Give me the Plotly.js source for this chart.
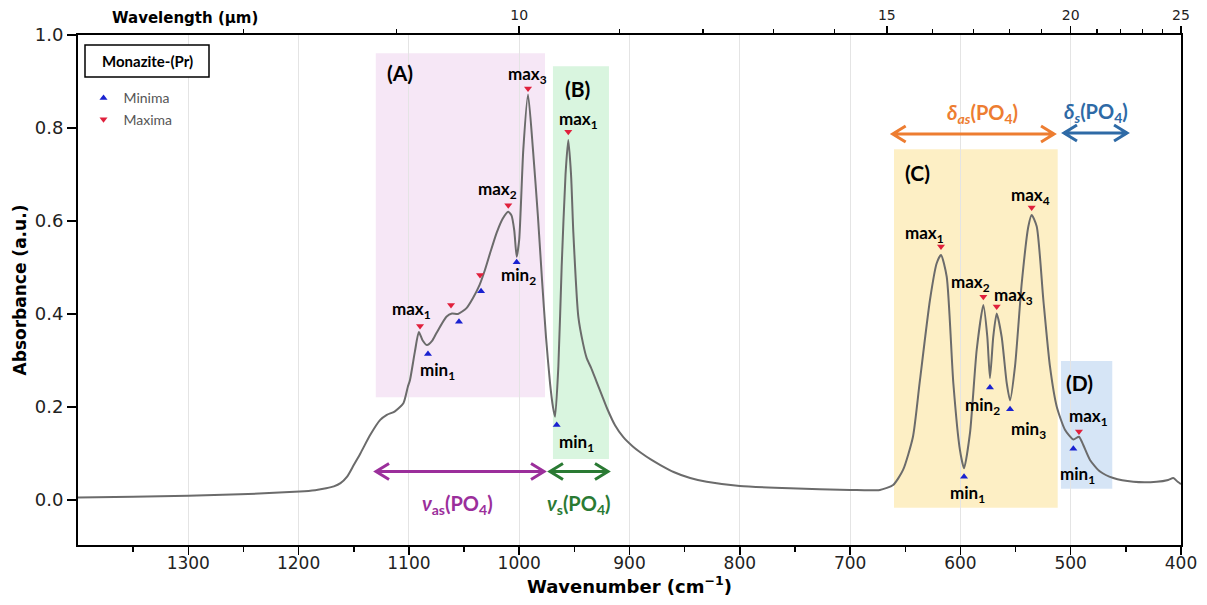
<!DOCTYPE html>
<html>
<head>
<meta charset="utf-8">
<script src="https://cdn.plot.ly/plotly-3.0.1.min.js"></script>
<style>html,body{margin:0;padding:0;background:#fff;}#chart{width:1207px;height:605px;}</style>
</head>
<body>
<div id="chart"></div>
<script>
// ---- Spectrum (wavenumber cm^-1, absorbance a.u.) ----
const wavenumber = [1400,1350,1300,1253,1199,1185,1175,1168,1162,1156,1150,1144,1135,1126,1120,1113,1105,1101,1099,1094.5,1091,1087.5,1083.6,1079,1075,1066,1061,1055.5,1048,1042,1036,1031,1026.5,1020.4,1015,1010,1007,1004.5,1002.3,1000,996.3,992,987.5,983,979.3,975.7,972,969.4,967.5,964.5,961.5,958,955.5,953,950.9,946.4,942,938.8,935,930,925,920,913,905.6,897,890,880,872,860,845,830,800,754.5,700,673,661,652,643,637,627.6,621.5,617.6,612.4,606.4,600.4,596.7,591.3,585.2,579.2,575.6,573.2,570.2,567.1,562.6,558,555,550.5,544.4,538.4,535.4,530.8,524.8,518.8,512.7,505.2,497.6,492.5,488.6,482.5,473.4,461.4,443.2,422.1,411.6,407,403,400];
const absorbance = [0.005,0.007,0.009,0.012,0.018,0.021,0.025,0.029,0.036,0.050,0.075,0.100,0.140,0.172,0.183,0.190,0.208,0.243,0.258,0.320,0.361,0.343,0.333,0.342,0.359,0.394,0.401,0.400,0.412,0.434,0.462,0.495,0.530,0.575,0.605,0.620,0.612,0.580,0.523,0.560,0.753,0.872,0.753,0.609,0.473,0.350,0.250,0.200,0.179,0.287,0.502,0.700,0.774,0.700,0.574,0.394,0.335,0.305,0.285,0.255,0.225,0.195,0.160,0.135,0.115,0.102,0.086,0.075,0.060,0.047,0.039,0.030,0.025,0.0215,0.0215,0.032,0.0645,0.136,0.251,0.430,0.509,0.527,0.480,0.251,0.107,0.068,0.144,0.323,0.419,0.351,0.262,0.351,0.401,0.351,0.251,0.214,0.287,0.466,0.588,0.613,0.588,0.430,0.287,0.201,0.151,0.130,0.136,0.118,0.086,0.061,0.047,0.039,0.039,0.043,0.047,0.039,0.034];

// ---- Extrema markers ----
const minimaX = [1082.7,1054.6,1034.6,1002.3,966.0,596.7,573.2,555.0,497.6];
const minimaY = [0.314,0.383,0.449,0.511,0.161,0.050,0.242,0.195,0.110];
const maximaX = [1089.9,1061.8,1035.5,1009.9,992.0,955.5,617.6,579.2,567.1,535.4,492.5];
const maximaY = [0.374,0.419,0.484,0.634,0.885,0.792,0.545,0.437,0.416,0.629,0.147];

// ---- Axis ticks ----
const xTicks = [1300,1200,1100,1000,900,800,700,600,500,400];
const xMinorTicks = [1350,1250,1150,1050,950,850,750,650,550,450];
const yTicks = [0.0,0.2,0.4,0.6,0.8,1.0];
const wlMajor = [10,15,20,25];
const wlMinor = [8,9,11,12,13,14,16,17,18,19,21,22,23,24];

// ---- Regions ----
const regionNames = ['(A)','(B)','(C)','(D)'];
const regionX0 = [1130,969.4,660.2,508.8];
const regionX1 = [976.6,918.6,511.8,462.3];
const regionY0 = [0.221,0.088,-0.017,0.024];
const regionY1 = [0.961,0.933,0.754,0.299];
const regionColors = ['rgba(221,160,221,0.25)','rgba(120,220,140,0.28)','rgba(250,215,110,0.40)','rgba(120,170,225,0.30)'];
const regionLabelX = [1108.1,946.7,638.9,491.6];
const regionLabelY = [0.920,0.884,0.705,0.252];

// ---- Peak labels ----
const peakText = ['max<sub>3</sub>','max<sub>1</sub>','max<sub>2</sub>','min<sub>2</sub>','max<sub>1</sub>','min<sub>1</sub>','min<sub>1</sub>',
  'max<sub>1</sub>','max<sub>2</sub>','max<sub>3</sub>','max<sub>4</sub>','min<sub>2</sub>','min<sub>3</sub>','min<sub>1</sub>','max<sub>1</sub>','min<sub>1</sub>'];
const peakTextX = [992.9,945.8,1020.1,1000.2,1097.2,1074.5,948.5,632.1,590.4,551.9,536.0,580.4,538.7,594.0,484.3,493.4];
const peakTextY = [0.914,0.818,0.667,0.482,0.409,0.277,0.123,0.572,0.467,0.439,0.654,0.202,0.151,0.013,0.178,0.054];

// ---- Vibration-mode arrows ----
const modeText = ['<i>ν</i><sub>as</sub>(PO<sub>4</sub>)','<i>ν</i><sub>s</sub>(PO<sub>4</sub>)','<i>δ<sub>as</sub></i>(PO<sub>4</sub>)','<i>δ<sub>s</sub></i>(PO<sub>4</sub>)'];
const modeTextX = [1055.5,945.8,580.4,477.1];
const modeTextY = [-0.009,-0.009,0.832,0.833];
const arrowStart = [1129.8,972.1,661.4,506.1];
const arrowEnd = [977.5,919.5,515.1,448.9];
const arrowY = [0.061,0.061,0.787,0.789];
const modeColors = ['#9b2f9b','#2a7a33','#ed7d31','#2e6aa6'];

const X_RANGE = [1400,400];
const Y_RANGE = [-0.097,1.0];
const W = 1207, H = 605, M = {l:78, r:26, t:35, b:60};
const pw = W - M.l - M.r, ph = H - M.t - M.b;
const dxPx = (X_RANGE[0]-X_RANGE[1]) / pw;
const dyPx = (Y_RANGE[1]-Y_RANGE[0]) / ph;

const labelFont = 'Lato, Noto Sans, sans-serif';

const traces = [
  {x: wavenumber, y: absorbance, type:'scatter', mode:'lines', line:{color:'#6b6b6b', width:2, shape:'spline', smoothing:0.6}, showlegend:false, hoverinfo:'skip'},
  {x: minimaX, y: minimaY, type:'scatter', mode:'markers', name:'Minima', marker:{symbol:'triangle-up', size:7, color:'#1a22d0'}},
  {x: maximaX, y: maximaY, type:'scatter', mode:'markers', name:'Maxima', marker:{symbol:'triangle-down', size:7, color:'#e0203c'}},
  {x: wavenumber, y: absorbance, xaxis:'x2', type:'scatter', mode:'lines', line:{width:0}, opacity:0, showlegend:false, hoverinfo:'skip'}
];

const shapes = [];
for (let i = 0; i < regionNames.length; i++) {
  shapes.push({type:'rect', xref:'x', yref:'y', x0:regionX0[i], x1:regionX1[i], y0:regionY0[i], y1:regionY1[i],
    fillcolor:regionColors[i], line:{width:0}, layer:'below'});
}
const headL = 13, headH = 8;
for (let i = 0; i < arrowStart.length; i++) {
  const a = arrowStart[i], b = arrowEnd[i], y = arrowY[i];
  const lx = headL*dxPx, ly = headH*dyPx;
  const p = `M ${a},${y} L ${b},${y} M ${a-lx},${y+ly} L ${a},${y} L ${a-lx},${y-ly} M ${b+lx},${y+ly} L ${b},${y} L ${b+lx},${y-ly}`;
  shapes.push({type:'path', xref:'x', yref:'y', path:p, line:{color:modeColors[i], width:3}});
}
// legend title box
shapes.push({type:'rect', xref:'paper', yref:'paper', x0:(85-M.l)/pw, x1:(209-M.l)/pw, y0:(H-M.b-77)/ph, y1:(H-M.b-45)/ph, line:{color:'#000', width:1.5}, fillcolor:'#fff'});

const annotations = [];
for (let i = 0; i < regionNames.length; i++) {
  annotations.push({x:regionLabelX[i], y:regionLabelY[i], xref:'x', yref:'y', text:regionNames[i], showarrow:false,
    font:{family:labelFont, size:21, color:'#000', weight:'bold'}});
}
for (let i = 0; i < peakText.length; i++) {
  annotations.push({x:peakTextX[i], y:peakTextY[i], xref:'x', yref:'y', text:peakText[i], showarrow:false,
    font:{family:labelFont, size:17, color:'#000', weight:'bold'}});
}
for (let i = 0; i < modeText.length; i++) {
  annotations.push({x:modeTextX[i], y:modeTextY[i], xref:'x', yref:'y', text:modeText[i], showarrow:false,
    font:{family:labelFont, size:20, color:modeColors[i], weight:'bold'}});
}
annotations.push({x:(147-M.l)/pw, y:(H-M.b-61)/ph, xref:'paper', yref:'paper', xanchor:'center', yanchor:'middle', text:'Monazite-(Pr)', showarrow:false,
  font:{family:labelFont, size:15, color:'#000', weight:'bold'}});
annotations.push({x:(185-M.l)/pw, y:(H-M.b-18)/ph, xref:'paper', yref:'paper', xanchor:'center', yanchor:'middle', text:'Wavelength (µm)', showarrow:false,
  font:{family:'DejaVu Sans', size:15, color:'#000', weight:'bold'}});

const layout = {
  width: W, height: H,
  margin: {l:M.l, r:M.r, t:M.t, b:M.b, pad:0},
  paper_bgcolor:'#fff', plot_bgcolor:'#fff',
  font:{family:'DejaVu Sans', color:'#222'},
  xaxis: {range:X_RANGE, tickmode:'array', tickvals:xTicks, ticks:'outside', ticklen:8, tickwidth:1.5, tickcolor:'#000',
    showline:true, linecolor:'#000', linewidth:2, showgrid:true, gridcolor:'#e4e4e4', gridwidth:1, zeroline:false,
    minor:{tickmode:'array', tickvals:xMinorTicks, ticks:'outside', ticklen:5, tickwidth:1.5, tickcolor:'#000', showgrid:false},
    tickfont:{size:17, color:'#222'}, ticklabelstandoff:-6,
    title:{text:'Wavenumber (cm<sup>−1</sup>)', font:{size:18, color:'#000', weight:'bold'}, standoff:2}},
  xaxis2: {overlaying:'x', side:'top', range:X_RANGE, tickmode:'array', tickvals:wlMajor.map(v=>10000/v), ticktext:wlMajor.map(String),
    ticks:'outside', ticklen:7, tickwidth:1.5, tickcolor:'#000', showline:true, linecolor:'#000', linewidth:2, showgrid:false, zeroline:false,
    minor:{tickmode:'array', tickvals:wlMinor.map(v=>10000/v), ticks:'outside', ticklen:4, tickwidth:1.2, tickcolor:'#000', showgrid:false},
    tickfont:{size:14, color:'#222'}},
  yaxis: {range:Y_RANGE, tickmode:'array', tickvals:yTicks, tickformat:'.1f', ticks:'outside', ticklen:9, tickwidth:1.5, tickcolor:'#000',
    showline:true, mirror:true, linecolor:'#000', linewidth:2, showgrid:false, zeroline:false,
    tickfont:{size:18, color:'#222'},
    title:{text:'Absorbance (a.u.)', font:{size:17, color:'#000', weight:'bold'}, standoff:4}},
  legend: {x:0.005, y:0.907, xanchor:'left', yanchor:'top', bgcolor:'rgba(0,0,0,0)', borderwidth:0,
    font:{family:labelFont, size:14, color:'#555'}, itemwidth:30, tracegroupgap:0},
  shapes: shapes,
  annotations: annotations,
  showlegend: true
};

Plotly.newPlot('chart', traces, layout, {displayModeBar:false, staticPlot:true});
</script>
</body>
</html>
